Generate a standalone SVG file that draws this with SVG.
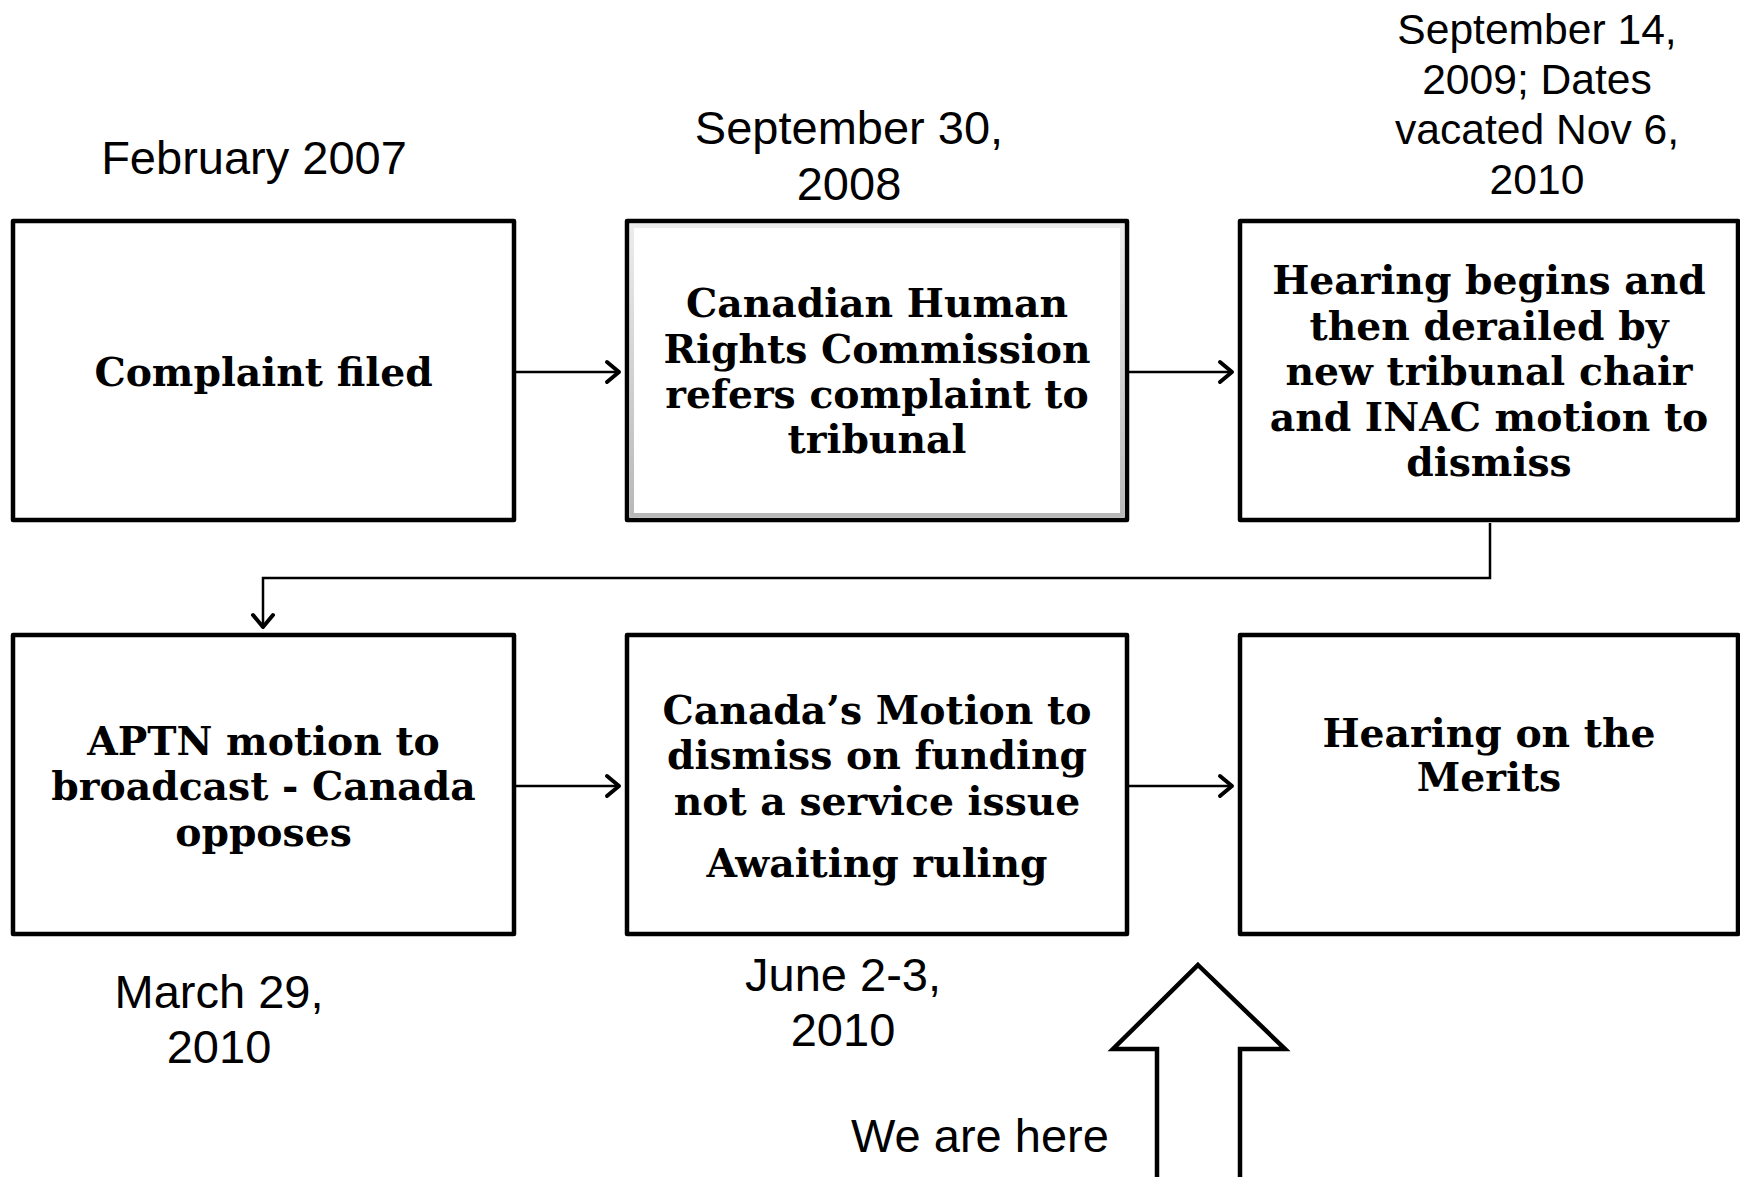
<svg xmlns="http://www.w3.org/2000/svg" width="1740" height="1177" viewBox="0 0 1740 1177">
<style>
.box{fill:#fff;stroke:#000;stroke-width:4.5;stroke-linejoin:round}
.bt{font-family:"DejaVu Serif","Liberation Serif",serif;font-weight:bold;font-size:39.3px;text-anchor:middle;fill:#000}
.lb{font-family:"Liberation Sans",Arial,sans-serif;font-size:47px;text-anchor:middle;fill:#000}
.lbs{font-family:"Liberation Sans",Arial,sans-serif;font-size:42.6px;text-anchor:middle;fill:#000}
.con{fill:none;stroke:#000;stroke-width:2.5}
</style>
<defs>
<marker id="arr" markerUnits="userSpaceOnUse" markerWidth="18" markerHeight="26" viewBox="0 0 18 26" refX="15" refY="13" orient="auto">
<path d="M3,3 L15,13 L3,23" fill="none" stroke="#000" stroke-width="4" stroke-linecap="round" stroke-linejoin="round"/>
</marker>
<linearGradient id="bev" x1="0" y1="0" x2="0" y2="1">
<stop offset="0" stop-color="#ececec"/>
<stop offset="1" stop-color="#b8b8b8"/>
</linearGradient>
</defs>
<rect width="1740" height="1177" fill="#fff"/>

<g id="labels">
<text class="lb" x="254" y="174">February 2007</text>
<text class="lb" x="849" y="144">September 30,</text>
<text class="lb" x="849" y="200">2008</text>
<text class="lbs" x="1537" y="44">September 14,</text>
<text class="lbs" x="1537" y="94">2009; Dates</text>
<text class="lbs" x="1537" y="144">vacated Nov 6,</text>
<text class="lbs" x="1537" y="194">2010</text>
<text class="lb" x="219" y="1008">March 29,</text>
<text class="lb" x="219" y="1063">2010</text>
<text class="lb" x="843" y="991">June 2-3,</text>
<text class="lb" x="843" y="1046">2010</text>
<text class="lb" x="980" y="1152">We are here</text>
</g>

<g id="connectors">
<line class="con" x1="516" y1="372" x2="619" y2="372" marker-end="url(#arr)"/>
<line class="con" x1="1129" y1="372" x2="1232" y2="372" marker-end="url(#arr)"/>
<polyline class="con" points="1490,523 1490,578 263,578 263,627" marker-end="url(#arr)"/>
<line class="con" x1="516" y1="786" x2="619" y2="786" marker-end="url(#arr)"/>
<line class="con" x1="1129" y1="786" x2="1232" y2="786" marker-end="url(#arr)"/>
</g>

<g id="n1">
<rect class="box" x="13" y="221" width="501" height="299"/>
<text class="bt" x="263.5" y="386">Complaint filed</text>
</g>

<g id="n2">
<rect class="box" x="627" y="221" width="500" height="299"/>
<rect x="632" y="226" width="490" height="289" fill="none" stroke="url(#bev)" stroke-width="4"/>
<text class="bt" x="877" y="317">Canadian Human</text>
<text class="bt" x="877" y="363">Rights Commission</text>
<text class="bt" x="877" y="408">refers complaint to</text>
<text class="bt" x="877" y="453">tribunal</text>
</g>

<g id="n3">
<rect class="box" x="1240" y="221" width="498" height="299"/>
<text class="bt" x="1489" y="294">Hearing begins and</text>
<text class="bt" x="1489" y="340">then derailed by</text>
<text class="bt" x="1489" y="385">new tribunal chair</text>
<text class="bt" x="1489" y="431">and INAC motion to</text>
<text class="bt" x="1489" y="476">dismiss</text>
</g>

<g id="n4">
<rect class="box" x="13" y="635" width="501" height="299"/>
<text class="bt" x="263.5" y="755">APTN motion to</text>
<text class="bt" x="263.5" y="800">broadcast - Canada</text>
<text class="bt" x="263.5" y="846">opposes</text>
</g>

<g id="n5">
<rect class="box" x="627" y="635" width="500" height="299"/>
<text class="bt" x="877" y="724">Canada’s Motion to</text>
<text class="bt" x="877" y="769">dismiss on funding</text>
<text class="bt" x="877" y="815">not a service issue</text>
<text class="bt" x="877" y="877">Awaiting ruling</text>
</g>

<g id="n6">
<rect class="box" x="1240" y="635" width="498" height="299"/>
<text class="bt" x="1489" y="747">Hearing on the</text>
<text class="bt" x="1489" y="791">Merits</text>
</g>

<g id="here-arrow">
<path d="M1198,965 L1285,1049 L1240,1049 L1240,1182 L1157,1182 L1157,1049 L1113,1049 Z" fill="#fff" stroke="#000" stroke-width="4.5" stroke-linejoin="miter"/>
</g>
</svg>
